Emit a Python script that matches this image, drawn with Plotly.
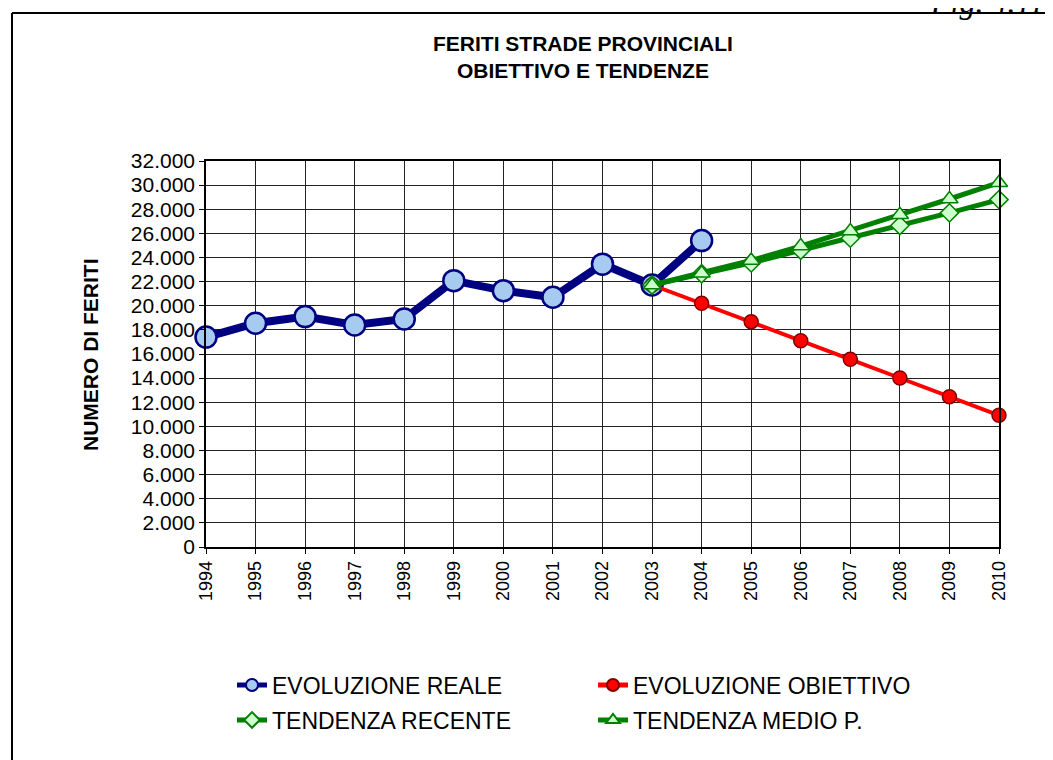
import plotly.graph_objects as go

# ---- data ----
anni_reale = [1994, 1995, 1996, 1997, 1998, 1999, 2000, 2001, 2002, 2003, 2004]
evoluzione_reale = [17400, 18550, 19100, 18400, 18900, 22080, 21250, 20700, 23450, 21720, 25400]

anni_prev = [2003, 2004, 2005, 2006, 2007, 2008, 2009, 2010]
evoluzione_obiettivo = [21720, 20200, 18680, 17100, 15560, 14010, 12460, 10920]
tendenza_recente = [21720, 22650, 23550, 24600, 25600, 26650, 27700, 28800]
tendenza_medio = [21720, 22700, 23750, 24950, 26200, 27550, 28850, 30200]

titolo = "FERITI STRADE PROVINCIALI<br>OBIETTIVO E TENDENZE"
titolo_y = "NUMERO DI FERITI"
fig_label = "Fig. 4.11"

FONT = "Liberation Sans, Arial, sans-serif"

# page has an 8px body margin: work in page pixels, convert to figure pixels
OFF = 8
FW, FH = 1053 - OFF, 760 - OFF
L, R, T, B = 206 - OFF, 999 - OFF, 161 - OFF, 547 - OFF
W, H = R - L, B - T
def px(x_page):
    return (x_page - OFF - L) / W
def py(y_page):
    return (B - (y_page - OFF)) / H

fig = go.Figure()

fig.add_trace(go.Scatter(
    x=anni_reale, y=evoluzione_reale, name="EVOLUZIONE REALE",
    mode="lines+markers", cliponaxis=False,
    line=dict(color="#000080", width=8),
    marker=dict(symbol="circle", size=21, color="#A6CAF0",
                line=dict(color="#000080", width=2.5)),
    legend="legend",
))
fig.add_trace(go.Scatter(
    x=anni_prev, y=evoluzione_obiettivo, name="EVOLUZIONE OBIETTIVO",
    mode="lines+markers", cliponaxis=False,
    line=dict(color="#FF0000", width=4),
    marker=dict(symbol="circle", size=14, color="#FF0000",
                line=dict(color="#800000", width=1.5)),
    legend="legend",
))
fig.add_trace(go.Scatter(
    x=anni_prev, y=tendenza_recente, name="TENDENZA RECENTE",
    mode="lines+markers", cliponaxis=False,
    line=dict(color="#008000", width=5),
    marker=dict(symbol="diamond", size=14, color="#CCFFCC",
                line=dict(color="#008000", width=1.5)),
    legend="legend2",
))
fig.add_trace(go.Scatter(
    x=anni_prev, y=tendenza_medio, name="TENDENZA MEDIO P.",
    mode="lines+markers", cliponaxis=False,
    line=dict(color="#008000", width=5),
    marker=dict(symbol="triangle-up", size=15, color="#CCFFCC",
                line=dict(color="#008000", width=1.5)),
    legend="legend2",
))

legend_common = dict(
    orientation="h", xanchor="left", yanchor="middle",
    font=dict(family=FONT, size=23, color="black"),
    bgcolor="rgba(0,0,0,0)", entrywidth=316, entrywidthmode="pixels",
    itemsizing="constant", traceorder="normal",
)

fig.update_layout(
    width=FW, height=FH,
    margin=dict(l=L, r=FW - R, t=T, b=FH - B, autoexpand=False),
    paper_bgcolor="white", plot_bgcolor="white",
    separators=",.",
    showlegend=True,
    legend=dict(x=px(232), y=py(685), **legend_common),
    legend2=dict(x=px(232), y=py(720), **legend_common),
    xaxis=dict(
        range=[1994, 2010], tickmode="linear", tick0=1994, dtick=1,
        tickangle=-90, showgrid=True, gridcolor="#222", gridwidth=1,
        showline=True, linecolor="black", linewidth=1.5, mirror=True,
        ticks="outside", ticklen=5, tickcolor="black",
        tickfont=dict(family=FONT, size=18, color="black"),
        zeroline=False,
    ),
    yaxis=dict(
        range=[0, 32000], tickmode="linear", tick0=0, dtick=2000,
        tickformat=",d", showgrid=True, gridcolor="#222", gridwidth=1,
        showline=True, linecolor="black", linewidth=1.5, mirror=True,
        ticks="outside", ticklen=5, tickcolor="black",
        tickfont=dict(family=FONT, size=21, color="black"),
        zeroline=False,
    ),
    annotations=[
        dict(text="<b>" + titolo + "</b>", xref="paper", yref="paper",
             x=px(582.5), y=py(57.5), xanchor="center", yanchor="middle",
             showarrow=False, font=dict(family=FONT, size=21, color="black")),
        dict(text="<b>" + titolo_y + "</b>", xref="paper", yref="paper",
             x=px(90), y=py(355), xanchor="center", yanchor="middle",
             textangle=-90, showarrow=False,
             font=dict(family=FONT, size=21, color="black")),
        dict(text=fig_label, xref="paper", yref="paper",
             x=px(928), y=py(22), xanchor="left", yanchor="bottom",
             showarrow=False,
             font=dict(family="Liberation Serif, Times New Roman, serif",
                       size=32, color="black", style="italic")),
    ],
    shapes=[
        dict(type="line", xref="paper", yref="paper",
             x0=px(12), x1=px(1075), y0=py(13), y1=py(13),
             line=dict(color="black", width=2)),
        dict(type="line", xref="paper", yref="paper",
             x0=px(12), x1=px(12), y0=py(13), y1=py(790),
             line=dict(color="black", width=2)),
    ],
)

fig.write_html("out.html")
